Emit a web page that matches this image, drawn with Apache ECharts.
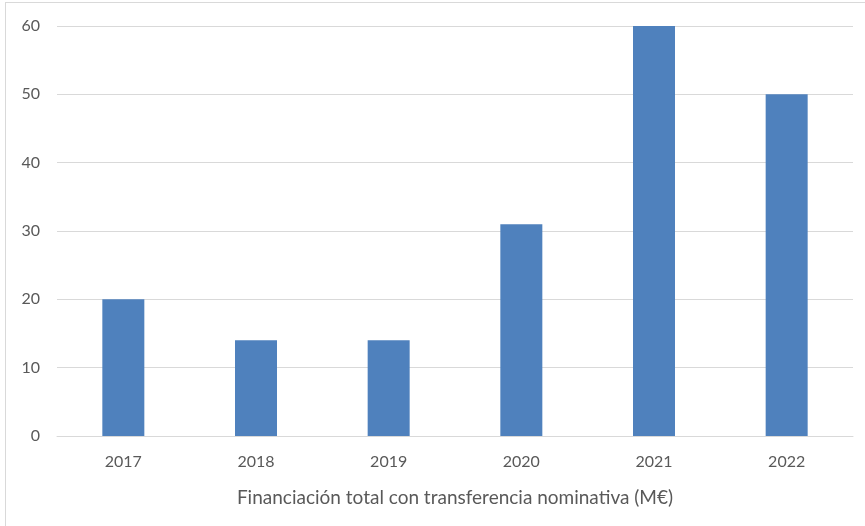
<!DOCTYPE html>
<html lang="es">
<head>
    <meta charset="UTF-8">
    <title>Financiación total con transferencia nominativa</title>
    <script src="https://cdn.jsdelivr.net/npm/echarts/dist/echarts.min.js"></script>
    <style>
        body {
            margin: 0;
            padding: 0;
            background-color: white;
            overflow: hidden;
        }
        #frame {
            position: absolute;
            left: 5px;
            top: 2px;
            width: 880px;
            height: 540px;
            border: 1px solid #d9d9d9;
            box-sizing: border-box;
        }
        #main {
            position: absolute;
            left: 0;
            top: 0;
            width: 865px;
            height: 526px;
        }
    </style>
</head>
<body>
    <div id="frame"></div>
    <div id="main"></div>

    <script type="text/javascript">
        // datos
        var years = ['2017', '2018', '2019', '2020', '2021', '2022'];
        var financiacion = [20, 14, 14, 31, 60, 50];
        var axisTitle = 'Financiación total con transferencia nominativa (M€)';

        var myChart = echarts.init(document.getElementById('main'));
        var fuente = 'Lato, "Open Sans", sans-serif';

        var option = {
            animation: false,
            grid: {
                left: 57,
                right: 12,
                top: 26,
                bottom: 90
            },
            xAxis: {
                type: 'category',
                data: years,
                name: axisTitle,
                nameLocation: 'middle',
                nameGap: 52,
                nameTextStyle: {
                    color: '#595959',
                    fontSize: 19,
                    fontFamily: fuente
                },
                axisLine: { lineStyle: { color: '#d9d9d9', width: 1 } },
                axisTick: { show: false },
                axisLabel: {
                    color: '#595959',
                    fontSize: 16,
                    fontFamily: fuente,
                    margin: 18
                }
            },
            yAxis: {
                type: 'value',
                min: 0,
                max: 60,
                interval: 10,
                axisLine: { show: false },
                axisTick: { show: false },
                splitLine: { lineStyle: { color: '#d9d9d9', width: 1 } },
                axisLabel: {
                    color: '#595959',
                    fontSize: 16,
                    fontFamily: fuente,
                    margin: 17
                }
            },
            series: [{
                type: 'bar',
                data: financiacion,
                barWidth: 42,
                itemStyle: { color: '#4f81bd' }
            }]
        };

        myChart.setOption(option);
    </script>
</body>
</html>
